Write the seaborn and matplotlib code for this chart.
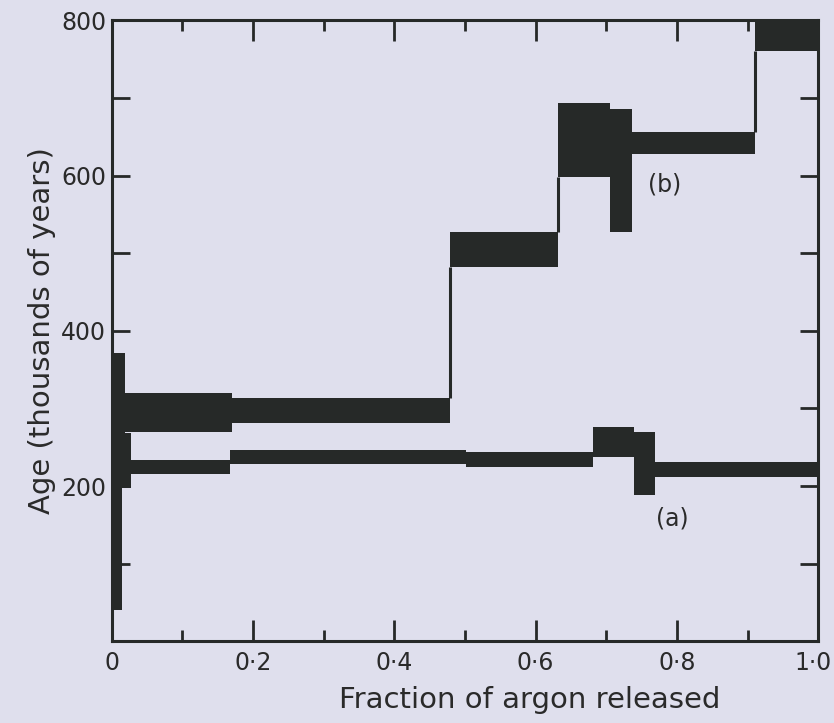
import numpy as np
import matplotlib
matplotlib.use("Agg")
import matplotlib.pyplot as plt
import matplotlib.transforms as mtransforms
import seaborn as sb
from matplotlib.ticker import MultipleLocator, FuncFormatter

# Age spectra: step edges (fraction of argon released) and age range of each step
# (thousands of years).
a_edges = [0.000, 0.014, 0.027, 0.167, 0.502, 0.681, 0.740, 0.769, 1.000]
a_low = [40, 197, 216, 229, 225, 237, 188, 212]
a_high = [330, 268, 233, 247, 244, 276, 270, 231]

b_edges = [0.000, 0.019, 0.170, 0.479, 0.632, 0.705, 0.736, 0.910, 1.000]
b_low = [200, 270, 281, 482, 598, 527, 628, 760]
b_high = [372, 320, 313, 527, 693, 686, 656, 800]

x_ticks = [0, 0.2, 0.4, 0.6, 0.8, 1.0]
x_ticklabels = ["0", "0·2", "0·4", "0·6", "0·8", "1·0"]

bg = "#dfdfed"
ink = "#262928"
txt = "#2a2a2a"

sb.set_theme(style="ticks")
plt.rcParams["font.family"] = ["DejaVu Sans"]

fig = plt.figure(figsize=(8.34, 7.23), dpi=100)
fig.patch.set_facecolor(bg)
ax = fig.add_axes([0.134, 0.113, 0.847, 0.859])
ax.set_facecolor(bg)

for edges, low, high in [(a_edges, a_low, a_high), (b_edges, b_low, b_high)]:
    x = np.array(edges)
    lo = np.array(low)
    hi = np.array(high)
    ax.bar(x[:-1], hi - lo, width=np.diff(x), bottom=lo, align="edge",
           color=ink, linewidth=0)
    # thin joins between steps that do not overlap
    for i in range(1, len(lo)):
        y0 = min(hi[i - 1], hi[i])
        y1 = max(lo[i - 1], lo[i])
        if y1 > y0:
            ax.vlines(x[i], y0, y1, color=ink, linewidth=2.2)

ax.set_xlim(0, 1.0)
ax.set_ylim(0, 800)

ax.set_xticks(x_ticks)
ax.set_xticklabels(x_ticklabels)
ax.xaxis.set_minor_locator(MultipleLocator(0.1))
ax.yaxis.set_major_locator(MultipleLocator(100))
ax.yaxis.set_major_formatter(FuncFormatter(
    lambda v, p: "%d" % v if v > 0 and int(round(v)) % 200 == 0 else ""))

ax.tick_params(which="both", direction="in", top=True, right=True,
               color=ink, width=2, labelcolor=txt, labelsize=17)
ax.tick_params(axis="x", which="major", length=15, pad=7)
ax.tick_params(axis="x", which="minor", length=8)
ax.tick_params(axis="y", which="major", length=13, pad=4)

# keep the last x label inside the figure
last = ax.get_xticklabels()[-1]
last.set_transform(last.get_transform() +
                   mtransforms.ScaledTranslation(-5 / 100, 0, fig.dpi_scale_trans))

for s in ax.spines.values():
    s.set_color(ink)
    s.set_linewidth(2.2)

ax.set_xlabel("Fraction of argon released", fontsize=21, color=txt, labelpad=2)
ax.xaxis.set_label_coords(0.592, -0.072)
ax.set_ylabel("Age (thousands of years)", fontsize=21, color=txt, labelpad=4)

ax.text(0.783, 588, "(b)", fontsize=17, color=txt, ha="center", va="center")
ax.text(0.793, 158, "(a)", fontsize=17, color=txt, ha="center", va="center")

fig.savefig("out.png", dpi=100, facecolor=bg)
